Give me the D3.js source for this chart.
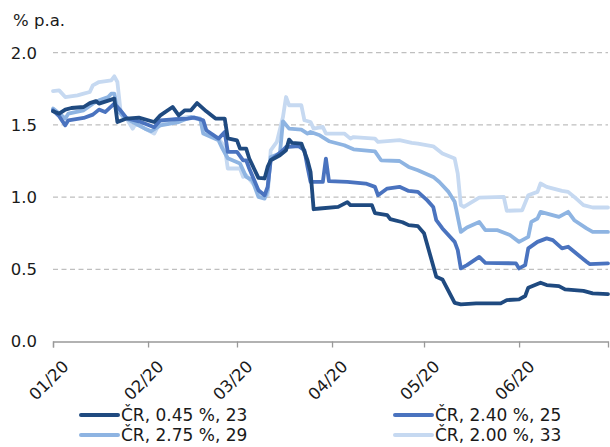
<!DOCTYPE html>
<html><head><meta charset="utf-8">
<script src="https://cdn.jsdelivr.net/npm/d3@7"></script>
<style>
html,body{margin:0;padding:0;background:#fff;}
svg{display:block;font-family:"DejaVu Sans",Verdana,sans-serif;}
</style></head>
<body><svg id="c" width="610" height="447"></svg>
<script>
const seriesNames = ["ČR, 0.45 %, 23","ČR, 2.40 %, 25","ČR, 2.75 %, 29","ČR, 2.00 %, 33"];
const seriesColors = ["#1f4a80","#4a73bf","#8eb4e2","#c6d9f1"];
const yTicks = [0, 0.5, 1.0, 1.5, 2.0];
const yUnit = "% p.a.";
const xDomain = ["2020-01-01","2020-06-30"];

const s1 = [
["2020-01-01",1.594],["2020-01-03",1.578],["2020-01-05",1.606],["2020-01-07",1.617],["2020-01-11",1.624],
["2020-01-13",1.651],["2020-01-15",1.665],["2020-01-16",1.647],["2020-01-20",1.675],["2020-01-21",1.682],
["2020-01-22",1.520],["2020-01-25",1.544],["2020-01-29",1.550],["2020-02-03",1.520],["2020-02-05",1.566],
["2020-02-09",1.624],["2020-02-11",1.566],["2020-02-13",1.601],["2020-02-15",1.601],["2020-02-17",1.651],
["2020-02-20",1.594],["2020-02-23",1.544],["2020-02-26",1.544],["2020-02-27",1.407],["2020-03-01",1.393],
["2020-03-02",1.336],["2020-03-04",1.336],["2020-03-05",1.267],["2020-03-08",1.133],["2020-03-10",1.129],
["2020-03-11",1.209],["2020-03-12",1.255],["2020-03-15",1.290],["2020-03-17",1.324],["2020-03-18",1.398],
["2020-03-19",1.375],["2020-03-22",1.371],["2020-03-24",1.255],["2020-03-25",1.174],["2020-03-26",0.916],
["2020-03-28",0.921],["2020-04-03",0.932],["2020-04-06",0.965],["2020-04-07",0.944],["2020-04-14",0.944],
["2020-04-15",0.889],["2020-04-19",0.875],["2020-04-20",0.847],["2020-04-24",0.826],["2020-04-26",0.806],
["2020-04-29",0.799],["2020-05-01",0.750],["2020-05-05",0.448],["2020-05-07",0.430],["2020-05-11",0.268],
["2020-05-13",0.257],["2020-05-18",0.264],["2020-05-26",0.264],["2020-05-28",0.287],["2020-06-01",0.292],
["2020-06-03",0.315],["2020-06-04",0.373],["2020-06-08",0.407],["2020-06-10",0.391],["2020-06-14",0.384],
["2020-06-16",0.361],["2020-06-22",0.351],["2020-06-25",0.333],["2020-06-30",0.328]
];
const s2 = [
["2020-01-01",1.601],["2020-01-03",1.560],["2020-01-05",1.497],["2020-01-06",1.532],["2020-01-11",1.548],
["2020-01-14",1.571],["2020-01-16",1.606],["2020-01-18",1.589],["2020-01-21",1.647],["2020-01-23",1.601],
["2020-01-25",1.546],["2020-01-29",1.525],["2020-02-03",1.483],["2020-02-05",1.532],["2020-02-10",1.539],
["2020-02-14",1.544],["2020-02-16",1.550],["2020-02-19",1.532],["2020-02-20",1.463],["2020-02-24",1.405],
["2020-02-26",1.451],["2020-02-27",1.313],["2020-03-01",1.313],["2020-03-03",1.255],["2020-03-04",1.255],
["2020-03-05",1.198],["2020-03-08",1.048],["2020-03-10",1.013],["2020-03-11",1.071],["2020-03-12",1.255],
["2020-03-16",1.324],["2020-03-17",1.347],["2020-03-21",1.354],["2020-03-23",1.324],["2020-03-24",1.209],
["2020-03-25",1.105],["2020-03-29",1.105],["2020-03-30",1.267],["2020-03-31",1.110],["2020-04-06",1.105],
["2020-04-12",1.094],["2020-04-15",1.071],["2020-04-16",1.013],["2020-04-19",1.059],["2020-04-23",1.071],
["2020-04-26",1.043],["2020-04-29",1.036],["2020-05-02",0.979],["2020-05-04",0.932],["2020-05-05",0.840],
["2020-05-07",0.783],["2020-05-11",0.690],["2020-05-12",0.633],["2020-05-13",0.506],["2020-05-15",0.529],
["2020-05-19",0.586],["2020-05-21",0.545],["2020-05-31",0.541],["2020-06-01",0.506],["2020-06-03",0.529],
["2020-06-04",0.645],["2020-06-07",0.690],["2020-06-10",0.714],["2020-06-12",0.702],["2020-06-15",0.645],
["2020-06-17",0.656],["2020-06-19",0.621],["2020-06-23",0.552],["2020-06-24",0.536],["2020-06-30",0.541]
];
const s3 = [
["2020-01-01",1.613],["2020-01-05",1.544],["2020-01-06",1.578],["2020-01-11",1.601],["2020-01-14",1.647],
["2020-01-16",1.670],["2020-01-19",1.693],["2020-01-20",1.716],["2020-01-21",1.716],["2020-01-22",1.601],
["2020-01-24",1.555],["2020-01-27",1.520],["2020-01-29",1.497],["2020-01-31",1.474],["2020-02-02",1.456],
["2020-02-05",1.497],["2020-02-11",1.520],["2020-02-15",1.555],["2020-02-18",1.544],["2020-02-19",1.440],
["2020-02-24",1.393],["2020-02-25",1.347],["2020-02-27",1.269],["2020-03-02",1.232],["2020-03-04",1.140],
["2020-03-06",1.117],["2020-03-08",1.001],["2020-03-10",0.990],["2020-03-11",1.048],["2020-03-12",1.278],
["2020-03-15",1.302],["2020-03-16",1.525],["2020-03-18",1.474],["2020-03-22",1.467],["2020-03-24",1.440],
["2020-03-25",1.451],["2020-03-28",1.428],["2020-03-31",1.387],["2020-04-05",1.359],["2020-04-08",1.331],
["2020-04-15",1.317],["2020-04-17",1.255],["2020-04-23",1.250],["2020-04-26",1.209],["2020-04-29",1.186],
["2020-05-04",1.140],["2020-05-06",1.105],["2020-05-09",1.036],["2020-05-11",0.967],["2020-05-13",0.759],
["2020-05-15",0.790],["2020-05-19",0.828],["2020-05-21",0.771],["2020-05-25",0.771],["2020-05-29",0.737],
["2020-06-01",0.690],["2020-06-04",0.725],["2020-06-05",0.828],["2020-06-07",0.852],["2020-06-08",0.898],
["2020-06-14",0.863],["2020-06-17",0.898],["2020-06-19",0.840],["2020-06-23",0.783],["2020-06-25",0.759],
["2020-06-30",0.759]
];
const s4 = [
["2020-01-01",1.734],["2020-01-03",1.739],["2020-01-05",1.693],["2020-01-09",1.705],["2020-01-11",1.716],
["2020-01-13",1.728],["2020-01-14",1.774],["2020-01-16",1.797],["2020-01-20",1.808],["2020-01-21",1.836],
["2020-01-22",1.797],["2020-01-23",1.601],["2020-01-25",1.544],["2020-01-27",1.474],["2020-01-28",1.509],
["2020-01-31",1.474],["2020-02-03",1.440],["2020-02-05",1.520],["2020-02-14",1.555],["2020-02-18",1.537],
["2020-02-20",1.463],["2020-02-21",1.428],["2020-02-24",1.405],["2020-02-26",1.347],["2020-02-27",1.198],
["2020-03-02",1.198],["2020-03-03",1.140],["2020-03-04",1.151],["2020-03-08",1.048],["2020-03-09",1.013],
["2020-03-11",1.013],["2020-03-12",1.324],["2020-03-14",1.382],["2020-03-16",1.555],["2020-03-17",1.693],
["2020-03-18",1.636],["2020-03-22",1.636],["2020-03-23",1.532],["2020-03-25",1.520],["2020-03-26",1.474],
["2020-03-29",1.486],["2020-03-30",1.440],["2020-04-05",1.440],["2020-04-07",1.405],["2020-04-08",1.416],
["2020-04-15",1.405],["2020-04-16",1.382],["2020-04-23",1.394],["2020-04-27",1.375],["2020-04-29",1.371],
["2020-05-04",1.352],["2020-05-07",1.302],["2020-05-11",1.267],["2020-05-12",1.163],["2020-05-13",0.944],
["2020-05-14",0.932],["2020-05-19",0.997],["2020-05-27",1.001],["2020-05-28",0.905],["2020-06-02",0.909],
["2020-06-04",1.013],["2020-06-07",1.036],["2020-06-08",1.094],["2020-06-10",1.071],["2020-06-15",1.043],
["2020-06-17",1.036],["2020-06-19",1.001],["2020-06-22",0.944],["2020-06-25",0.928],["2020-06-30",0.928]
];

const parse = d3.timeParse("%Y-%m-%d");
const allSeries = [s1, s2, s3, s4].map(s => s.map(([d, v]) => ({date: parse(d), value: v})));

const svg = d3.select("#c");
const plotLeft = 53, plotRight = 608, plotTop = 52.7, plotBottom = 341.5;

const x = d3.scaleTime().domain(xDomain.map(parse)).range([plotLeft, plotRight]);
const y = d3.scaleLinear().domain([0, 2]).range([plotBottom, plotTop]);

// gridlines
svg.append("g").selectAll("line").data(yTicks.filter(t => t > 0)).join("line")
  .attr("x1", plotLeft).attr("x2", plotRight)
  .attr("y1", d => y(d)).attr("y2", d => y(d))
  .attr("stroke", "#bfbfbf").attr("stroke-width", 1.3).attr("stroke-dasharray", "5,3.5");

// y labels
svg.append("g").selectAll("text").data(yTicks).join("text")
  .attr("x", 37).attr("y", d => y(d)).attr("dy", "0.36em")
  .attr("text-anchor", "end").attr("font-size", 16.5).attr("fill", "#1a1a1a")
  .text(d => d3.format(".1f")(d));

svg.append("text").attr("x", 13).attr("y", 25.5).attr("font-size", 16.5).attr("fill", "#1a1a1a").text(yUnit);

// x axis
const xAxis = d3.axisBottom(x).ticks(d3.timeMonth.every(1)).tickFormat(d3.timeFormat("%m/%y")).tickSizeOuter(0).tickSize(6);
const gx = svg.append("g").attr("transform", `translate(0,${plotBottom})`).call(xAxis);
gx.select(".domain").attr("stroke", "#999").attr("stroke-width", 1.3);
gx.selectAll(".tick line").attr("stroke", "#999").attr("stroke-width", 1.3);
gx.selectAll(".tick text")
  .attr("font-size", 16.5).attr("fill", "#1a1a1a")
  .attr("font-family", '"DejaVu Sans",Verdana,sans-serif')
  .attr("text-anchor", "end")
  .attr("transform", "translate(12,22) rotate(-45)")
  .attr("dy", "0.35em").attr("y", 0).attr("x", 0);

// lines
const line = d3.line().x(d => x(d.date)).y(d => y(d.value));
const order = [3, 2, 1, 0];
svg.append("g").selectAll("path").data(order).join("path")
  .attr("d", i => line(allSeries[i]))
  .attr("fill", "none").attr("stroke", i => seriesColors[i])
  .attr("stroke-width", 3.8).attr("stroke-linejoin", "round").attr("stroke-linecap", "round");

// legend
const legPos = [[81, 415], [395, 415], [81, 435], [395, 435]];
const leg = svg.append("g").selectAll("g").data(seriesNames).join("g")
  .attr("transform", (d, i) => `translate(${legPos[i][0]},${legPos[i][1]})`);
leg.append("line").attr("x1", 0).attr("x2", 37).attr("y1", 0).attr("y2", 0)
  .attr("stroke", (d, i) => seriesColors[i]).attr("stroke-width", 4).attr("stroke-linecap", "round");
leg.append("text").attr("x", 40).attr("y", 0).attr("dy", "0.36em")
  .attr("font-size", 17).attr("fill", "#1a1a1a").text(d => d);
</script></body></html>
